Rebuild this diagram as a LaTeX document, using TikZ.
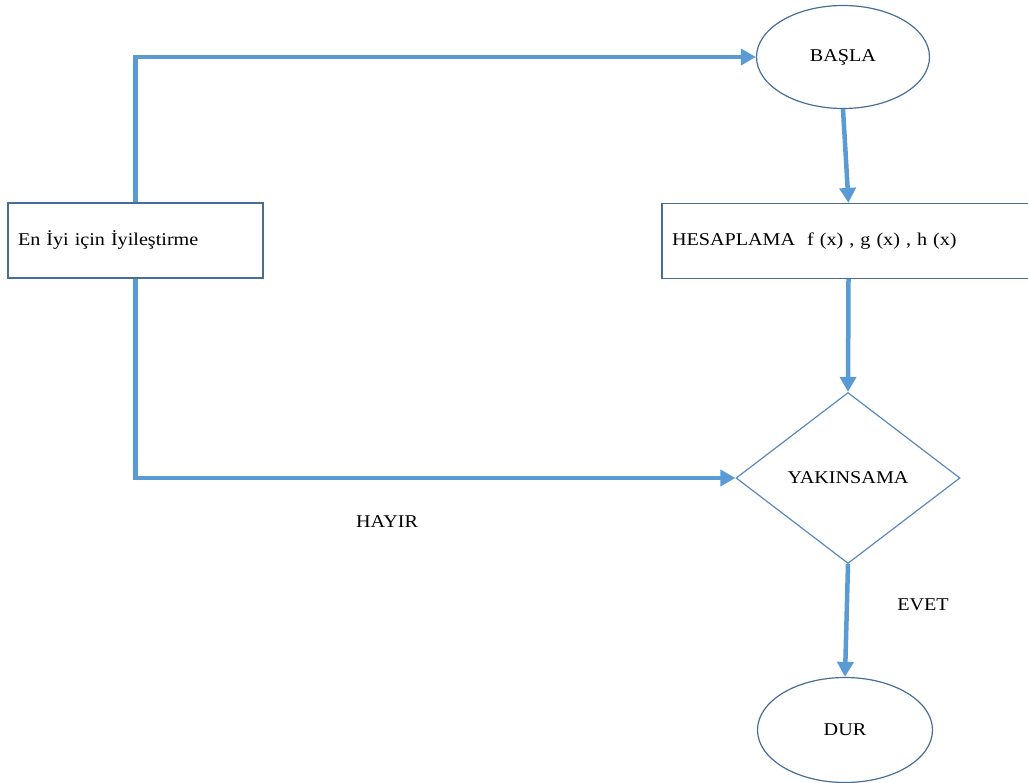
\documentclass[tikz,border=0pt]{standalone}
\usepackage{fontspec}
\setmainfont{Liberation Serif}[FakeStretch=1.12]
\usetikzlibrary{shapes.geometric, arrows.meta, positioning, calc}
\definecolor{cFlow}{RGB}{91,155,213}
\definecolor{cEdge}{RGB}{70,110,150}
\definecolor{cDiam}{RGB}{90,135,190}
\tikzset{
	startstop/.style={ellipse, draw=cEdge, line width=1.2pt, minimum width=173pt, minimum height=103pt, inner sep=0pt},
	process/.style  ={rectangle, draw=cEdge, line width=1.2pt, minimum height=75pt, inner xsep=10pt, align=left},
	decision/.style ={diamond, aspect=1.31, draw=cDiam, line width=1.2pt, minimum width=224pt, minimum height=171pt, inner sep=0pt},
	flowarrow/.style={-{Triangle[length=15pt,width=16pt]}, line width=4.5pt, draw=cFlow},
	lbl/.style      ={inner sep=0pt},
}
\begin{document}
\begin{tikzpicture}[font=\fontsize{18}{22}\selectfont, x=1pt, y=-1pt]
	\clip (0,0) rectangle (1028,783);
	% blocks
	\node[startstop] (basla) at (843,57) {BAŞLA};
	\node[process, text width=235pt] (iyiles) at (135.5,240.5) {En İyi için İyileştirme};
	\node[process, text width=353pt] (hesap) at (848.5,241) {HESAPLAMA\ \ f (x) , g (x) , h (x)};
	\node[decision] (yakin) at (848,478) {YAKINSAMA};
	\node[startstop, minimum width=175pt, minimum height=105pt] (dur) at (845,730) {DUR};
	\node[lbl] (hayir) at (387,522) {HAYIR};
	\node[lbl] (evet) at (923,605) {EVET};
	% connectors
	\draw[flowarrow] (iyiles.north) |- (basla.west);
	\draw[flowarrow] (basla.south) -- (hesap.north);
	\draw[flowarrow] (hesap.south) -- (yakin.north);
	\draw[flowarrow] (iyiles.south) |- (yakin.west);
	\draw[flowarrow] (yakin.south) -- (dur.north);
\end{tikzpicture}
\end{document}
